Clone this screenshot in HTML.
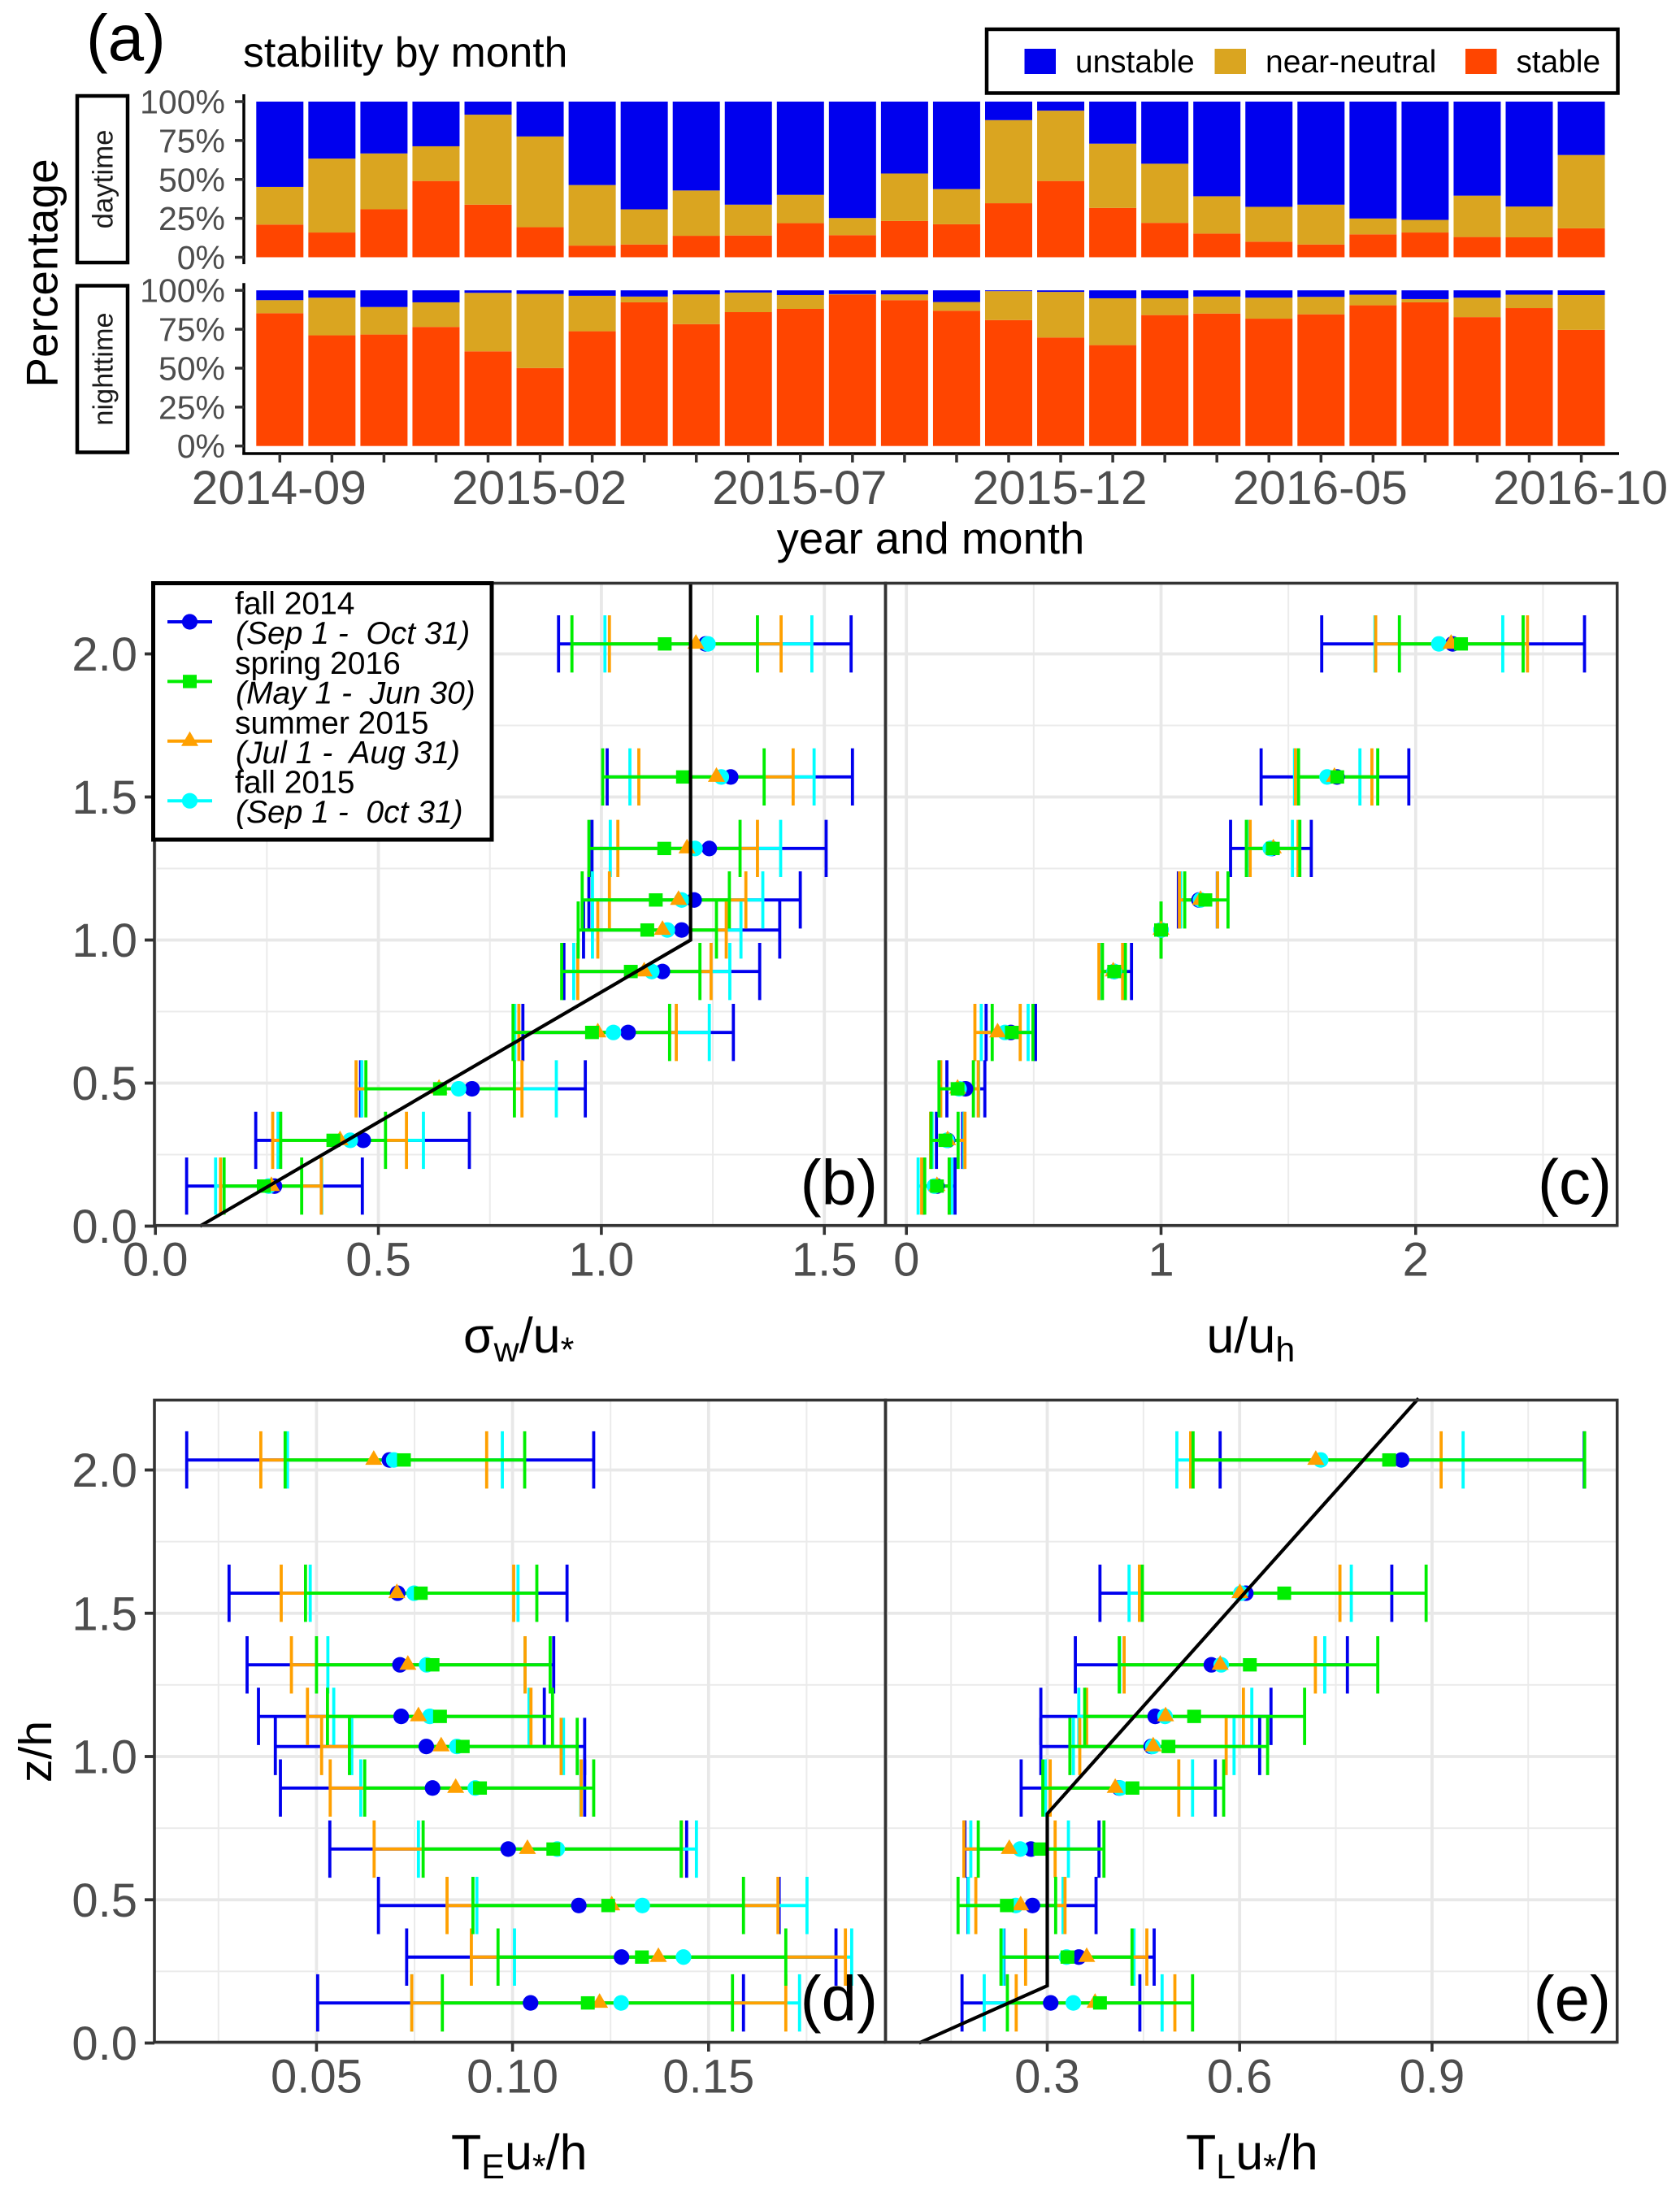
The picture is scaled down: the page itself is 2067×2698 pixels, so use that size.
<!DOCTYPE html>
<html lang="en">
<head>
<meta charset="utf-8">
<title>Stability by month and turbulence profiles</title>
<style>
html,body{margin:0;padding:0;background:#fff;}
svg{display:block;font-family:"Liberation Sans",Arial,sans-serif;}
</style>
</head>
<body>
<svg id="fig" xmlns="http://www.w3.org/2000/svg" width="2067" height="2698" viewBox="0 0 2067 2698">
  <rect x="0" y="0" width="2067" height="2698" fill="#fff"/>
  <g id="layer-a"></g>
  <g id="layer-b"></g>
  <g id="layer-c"></g>
  <g id="layer-d"></g>
  <g id="layer-e"></g>

  <text x="106" y="74" font-size="80">(a)</text>
  <text x="299" y="82" font-size="51.7">stability by month</text>
  <text transform="translate(70.5,336) rotate(-90)" text-anchor="middle" font-size="55">Percentage</text>

  <rect x="95" y="118" width="62" height="205" fill="#fff" stroke="#000" stroke-width="4.5"/>
  <text transform="translate(138.5,220.5) rotate(-90)" text-anchor="middle" font-size="34.8" fill="#1a1a1a">daytime</text>
  <rect x="95" y="351.5" width="62" height="205" fill="#fff" stroke="#000" stroke-width="4.5"/>
  <text transform="translate(138.5,454) rotate(-90)" text-anchor="middle" font-size="34.3" fill="#1a1a1a">nighttime</text>

  <g>
    <rect x="1214" y="36" width="776.5" height="78.5" fill="#fff" stroke="#000" stroke-width="4.5"/>
    <rect x="1260.5" y="60" width="38.5" height="31" fill="#0000ee"/>
    <text x="1323" y="89" font-size="38.8">unstable</text>
    <rect x="1494.5" y="60" width="38.5" height="31" fill="#daa520"/>
    <text x="1557" y="89" font-size="39">near-neutral</text>
    <rect x="1803" y="60" width="38.5" height="31" fill="#ff4500"/>
    <text x="1865.5" y="89" font-size="38.8">stable</text>
  </g>

  <text x="1145" y="681" text-anchor="middle" font-size="54.5">year and month</text>

  <text transform="translate(63,2155) rotate(-90)" text-anchor="middle" font-size="57">z/h</text>

  <text x="570" y="1664" font-size="61">σ<tspan font-size="43" dy="11">w</tspan><tspan dy="-11">/u</tspan><tspan font-size="43" dy="11">*</tspan></text>
  <text x="1484.5" y="1664" font-size="61">u/u<tspan font-size="43" dy="11">h</tspan></text>
  <text x="555" y="2669" font-size="61">T<tspan font-size="43" dy="11">E</tspan><tspan dy="-11">u</tspan><tspan font-size="43" dy="11">*</tspan><tspan dy="-11">/h</tspan></text>
  <text x="1459" y="2669" font-size="61">T<tspan font-size="43" dy="11">L</tspan><tspan dy="-11">u</tspan><tspan font-size="43" dy="11">*</tspan><tspan dy="-11">/h</tspan></text>

  <g id="legend-b"></g>

  <text x="1080" y="1481.5" text-anchor="end" font-size="78">(b)</text>
  <text x="1983" y="1481" text-anchor="end" font-size="78">(c)</text>
  <text x="1080" y="2485.5" text-anchor="end" font-size="78">(d)</text>
  <text x="1982" y="2485.5" text-anchor="end" font-size="78">(e)</text>
</svg>

<script>
// ---------- Panel (a) data: stacked monthly percentages ----------
const months = ["2014-09","2014-10","2014-11","2014-12","2015-01","2015-02","2015-03","2015-04","2015-05","2015-06","2015-07","2015-08","2015-09","2015-10","2015-11","2015-12","2016-01","2016-02","2016-03","2016-04","2016-05","2016-06","2016-07","2016-08","2016-09","2016-10"];
const monthTickLabels = ["2014-09","2015-02","2015-07","2015-12","2016-05","2016-10"];
const percentTicks = [0,25,50,75,100];
const dayStable = [21,15.9,30.8,49,33.8,19.3,7.5,8.2,13.8,14,21.9,14.2,23.3,21.2,34.7,49,31.7,22.1,15.2,10,8.2,14.7,15.9,13,12.8,18.6];
const dayNeutral = [24.2,47.5,35.9,22.3,57.8,58.3,38.9,22.6,29.1,19.8,18.2,11,30.5,22.6,53.4,45.2,41.3,38,24,22.4,25.6,10.2,8.1,26.6,19.8,47.1];
const dayUnstable = [54.8,36.6,33.3,28.7,8.4,22.4,53.6,69.2,57.1,66.2,59.9,74.8,46.2,56.2,11.9,5.8,27,39.9,60.8,67.6,66.2,75.1,76,60.4,67.4,34.3];
const nightStable = [85.3,71.1,71.6,76.5,60.8,50.1,73.7,92.3,78.3,86,88.1,97.2,93.7,86.9,80.9,69.7,64.8,84.1,85.1,81.8,84.6,90.4,92.3,82.8,88.6,74.6];
const nightNeutral = [8.4,24.2,17.7,15.8,37.6,47.6,22.8,3.7,19.1,12.6,8.9,0.4,3.7,5.6,18.6,29.3,30.1,10.8,10.9,13.5,11.2,6.8,2.1,12.5,8.6,22.4];
const nightUnstable = [6.3,4.7,10.7,7.7,1.6,2.3,3.5,4,2.6,1.4,3,2.4,2.6,7.5,0.5,1,5.1,5.1,4,4.7,4.2,2.8,5.6,4.7,2.8,3];

// ---------- Profile heights ----------
const heights = [2.035,1.57,1.32,1.14,1.035,0.89,0.677,0.48,0.30,0.14];

// ---------- Panel (b) sigma_w/u* ----------
const bBlueLow = [.904,1.013,.979,.972,.960,.916,.824,.460,.225,.070];
const bBlueMean = [1.234,1.290,1.242,1.208,1.180,1.137,1.060,.710,.466,.267];
const bBlueHigh = [1.560,1.563,1.504,1.446,1.400,1.355,1.296,.964,.704,.464];
const bGreenLow = [.934,1.003,.972,.957,.948,.911,.802,.472,.281,.154];
const bGreenMean = [1.142,1.183,1.141,1.122,1.103,1.066,.979,.638,.399,.243];
const bGreenHigh = [1.350,1.365,1.311,1.287,1.258,1.221,1.153,.805,.516,.328];
const bOrangeLow = [1.018,1.084,1.037,1.018,.992,.947,.815,.450,.263,.146];
const bOrangeMean = [1.212,1.258,1.192,1.173,1.137,1.096,.992,.636,.414,.260];
const bOrangeHigh = [1.403,1.430,1.350,1.324,1.280,1.246,1.168,.822,.563,.372];
const bCyanLow = [1.008,1.064,1.020,.980,.980,.938,.806,.463,.275,.135];
const bCyanMean = [1.239,1.269,1.210,1.180,1.148,1.113,1.027,.680,.437,.254];
const bCyanHigh = [1.472,1.477,1.402,1.362,1.313,1.288,1.242,.899,.601,.373];
const bRefX = [0.1,1.2,1.2];
const bRefZ = [0,1,2.25];

// ---------- Panel (c) u/uh ----------
const cBlueLow = [1.631,1.393,1.273,1.068,1,.762,.313,.159,.118,.066];
const cBlueMean = [2.145,1.691,1.435,1.149,1,.816,.410,.232,.162,.120];
const cBlueHigh = [2.663,1.973,1.590,1.221,1,.884,.507,.308,.221,.191];
const cGreenLow = [1.936,1.540,1.335,1.093,1,.770,.337,.128,.097,.072];
const cGreenMean = [2.178,1.692,1.439,1.174,1,.816,.414,.201,.153,.120];
const cGreenHigh = [2.422,1.851,1.545,1.263,1,.860,.497,.263,.203,.168];
const cOrangeLow = [1.843,1.528,1.350,1.072,1,.756,.269,.135,.095,.060];
const cOrangeMean = [2.139,1.681,1.441,1.155,1,.812,.358,.201,.162,.120];
const cOrangeHigh = [2.439,1.828,1.538,1.222,1,.849,.447,.282,.230,.168];
const cCyanLow = [1.84,1.524,1.343,1.077,1,.762,.294,.133,.101,.046];
const cCyanMean = [2.091,1.652,1.429,1.155,1,.816,.387,.207,.159,.110];
const cCyanHigh = [2.342,1.781,1.516,1.222,1,.855,.478,.284,.226,.178];

// ---------- Panel (d) T_E u*/h ----------
const dBlueLow = [.0169,.0277,.0323,.0352,.0395,.0408,.0534,.0658,.0730,.0503];
const dBlueMean = [.0686,.0707,.0713,.0716,.0780,.0796,.0989,.1169,.1278,.1046];
const dBlueHigh = [.1207,.1139,.1105,.1081,.1184,.1184,.1444,.1680,.1825,.1589];
const dGreenLow = [.0420,.0472,.0500,.0528,.0584,.0623,.0772,.0899,.0963,.0821];
const dGreenMean = [.0723,.0766,.0796,.0815,.0873,.0917,.1104,.1244,.1330,.1192];
const dGreenHigh = [.1031,.1062,.1096,.1102,.1165,.1207,.1430,.1589,.1697,.1561];
const dOrangeLow = [.0358,.0410,.0436,.0477,.0513,.0535,.0647,.0833,.0895,.0743];
const dOrangeMean = [.0646,.0705,.0733,.0760,.0818,.0855,.1038,.1253,.1372,.1222];
const dOrangeHigh = [.0934,.1003,.1032,.1047,.1124,.1175,.1431,.1677,.1849,.1697];
const dCyanLow = [.0426,.0484,.0529,.0544,.0590,.0613,.0760,.0909,.1005,.0743];
const dCyanMean = [.0697,.0749,.0781,.0789,.0858,.0905,.1114,.1331,.1436,.1277];
const dCyanHigh = [.0974,.1014,.1032,.1042,.1130,.1174,.1469,.1751,.1865,.1732];

// ---------- Panel (e) T_L u*/h ----------
const eBlueLow = [.5696,.3822,.3438,.2900,.2900,.2593,.1716,.1763,.2324,.1671];
const eBlueMean = [.8526,.6096,.5559,.4683,.4621,.4122,.2746,.2769,.3492,.3054];
const eBlueHigh = [1.1373,.8373,.7680,.6489,.6312,.5620,.3807,.3761,.4667,.4444];
const eGreenLow = [.5274,.4483,.4122,.3584,.3353,.2931,.1924,.1609,.2278,.2378];
const eGreenMean = [.8331,.6695,.6159,.5290,.4890,.4329,.2892,.2370,.3315,.3822];
const eGreenHigh = [1.138,.8908,.8154,.7013,.6436,.5751,.3884,.3131,.4322,.5266];
const eOrangeLow = [.5236,.4437,.4199,.3615,.3507,.3046,.1700,.1886,.2662,.2516];
const eOrangeMean = [.7187,.6004,.5697,.4845,.4652,.4060,.2408,.2585,.3615,.3745];
const eOrangeHigh = [.9142,.7564,.7181,.6059,.5790,.5051,.3123,.3277,.4553,.4990];
const eCyanLow = [.5021,.4276,.4130,.3492,.3407,.2969,.1808,.1770,.2316,.2017];
const eCyanMean = [.7264,.6019,.5712,.4837,.4644,.4137,.2577,.2508,.3300,.3407];
const eCyanHigh = [.9485,.7741,.7327,.6190,.5913,.5266,.3330,.3246,.4353,.4791];
const eRefX = [0.1,0.3,0.3,0.879];
const eRefZ = [0,0.2,0.8,2.25];

// ---------- Axis tick values ----------
const zMajorTicks = [0,0.5,1,1.5,2];
const zMinorTicks = [0.25,0.75,1.25,1.75];
const zTickLabels = ["0.0","0.5","1.0","1.5","2.0"];
const bMajorTicks = [0,0.5,1,1.5];
const bMinorTicks = [0.25,0.75,1.25];
const bTickLabels = ["0.0","0.5","1.0","1.5"];
const cMajorTicks = [0,1,2];
const cMinorTicks = [0.5,1.5,2.5];
const cTickLabels = ["0","1","2"];
const dMajorTicks = [0.05,0.10,0.15];
const dMinorTicks = [0.025,0.075,0.125,0.175];
const dTickLabels = ["0.05","0.10","0.15"];
const eMajorTicks = [0.3,0.6,0.9];
const eMinorTicks = [0.15,0.45,0.75,1.05];
const eTickLabels = ["0.3","0.6","0.9"];

// ---------- Legend text ----------
const legendSeasons = ["fall 2014","spring 2016","summer 2015","fall 2015"];
const legendDates = ["(Sep 1 -  Oct 31)","(May 1 -  Jun 30)","(Jul 1 -  Aug 31)","(Sep 1 -  0ct 31)"];

const SVGNS = "http://www.w3.org/2000/svg";
const COL = {blue:"#0000ee",green:"#00ee00",orange:"#ffa000",cyan:"#00ffff",gold:"#daa520",red:"#ff4500"};

function make(tag, attrs, parent){
  const el = document.createElementNS(SVGNS, tag);
  for (const k in attrs) el.setAttribute(k, attrs[k]);
  parent.appendChild(el);
  return el;
}

// ---------- Panel (a) ----------
(function(){
  const g = document.getElementById("layer-a");
  const xBar = i => 344.3 + 64.05 * i;
  const dayY = p => 316.5 - 1.915 * p;
  const nightY = p => 548.7 - 1.915 * p;
  const barW = 58;

  function stack(yFn, stable, neutral, unstable, prefix){
    months.forEach((m, i) => {
      const s = stable[i], n = neutral[i], u = unstable[i];
      const r1 = make("rect",{x:xBar(i)-barW/2,y:yFn(s),width:barW,height:yFn(0)-yFn(s),fill:COL.red},g);
      
      
      const r2 = make("rect",{x:xBar(i)-barW/2,y:yFn(s+n),width:barW,height:yFn(s)-yFn(s+n),fill:COL.gold},g);
      
      
      const r3 = make("rect",{x:xBar(i)-barW/2,y:yFn(s+n+u),width:barW,height:yFn(s+n)-yFn(s+n+u),fill:COL.blue},g);
      
      
    });
  }
  stack(dayY, dayStable, dayNeutral, dayUnstable, 'daytime');
  stack(nightY, nightStable, nightNeutral, nightUnstable, 'nighttime');

  function yAxis(yFn, y1, y2, prefix){
    const line = make("line",{x1:300,x2:300,y1:y1,y2:y2,stroke:"#000","stroke-width":3.5},g);
    
    
    percentTicks.forEach(p => {
      const t = make("line",{x1:289,x2:300,y1:yFn(p),y2:yFn(p),stroke:"#333","stroke-width":3.5},g);
      
      
      const lab = make("text",{x:277,y:yFn(p)+14.5,"text-anchor":"end","font-size":41,fill:"#4d4d4d"},g);
      
      
      lab.textContent = p + "%";
    });
  }
  yAxis(dayY, 116, 325, 'daytime');
  yAxis(nightY, 348.2, 559.5, 'nighttime');

  const xLine = make("line",{x1:298.3,x2:1992,y1:558,y2:558,stroke:"#000","stroke-width":3.5},g);
  
  
  months.forEach((m, i) => {
    const t = make("line",{x1:xBar(i),x2:xBar(i),y1:558,y2:569,stroke:"#333","stroke-width":3.5},g);
    
    
    if (monthTickLabels.indexOf(m) >= 0){
      const lab = make("text",{x:xBar(i)-1,y:620,"text-anchor":"middle","font-size":58.6,fill:"#4d4d4d"},g);
      
      
      lab.textContent = m;
    }
  });
})();

// ---------- Marker helpers ----------
function drawMarker(g, shape, color, x, y, name){
  let el;
  if (shape === "circle") el = make("circle",{cx:x,cy:y,r:9.6,fill:color},g);
  else if (shape === "square") el = make("rect",{x:x-8.5,y:y-8.2,width:17,height:16.4,fill:color},g);
  else el = make("polygon",{points:(x-10.5)+","+(y+6)+" "+(x+10.5)+","+(y+6)+" "+x+","+(y-12),fill:color},g);
  
  
}

// ---------- Profile panels ----------
function drawPanel(cfg){
  const g = document.getElementById(cfg.layer);
  const sx = cfg.sx, sz = cfg.sz;
  const L = cfg.left, R = cfg.right, T = cfg.top, B = cfg.bottom;

  zMinorTicks.forEach(z => {
    const l = make("line",{x1:L,x2:R,y1:sz(z),y2:sz(z),stroke:"#ebebeb","stroke-width":2},g);
    
    
  });
  cfg.xMinor.forEach(v => {
    const l = make("line",{x1:sx(v),x2:sx(v),y1:T,y2:B,stroke:"#ebebeb","stroke-width":2},g);
    
    
  });
  zMajorTicks.forEach(z => {
    const l = make("line",{x1:L,x2:R,y1:sz(z),y2:sz(z),stroke:"#e8e8e8","stroke-width":3.8},g);
    
    
  });
  cfg.xMajor.forEach(v => {
    const l = make("line",{x1:sx(v),x2:sx(v),y1:T,y2:B,stroke:"#e8e8e8","stroke-width":3.8},g);
    
    
  });

  // error bars, in back-to-front order
  cfg.series.forEach(s => {
    heights.forEach((z, i) => {
      const y = sz(z), x1 = sx(s.low[i]), x2 = sx(s.high[i]);
      const h = make("line",{x1:x1,x2:x2,y1:y,y2:y,stroke:s.color,"stroke-width":3.9},g);
      
      
      const c1 = make("line",{x1:x1,x2:x1,y1:sz(z+0.1),y2:sz(z-0.1),stroke:s.color,"stroke-width":3.8},g);
      
      
      const c2 = make("line",{x1:x2,x2:x2,y1:sz(z+0.1),y2:sz(z-0.1),stroke:s.color,"stroke-width":3.8},g);
      
      
    });
  });
  cfg.series.forEach(s => {
    heights.forEach((z, i) => {
      drawMarker(g, s.shape, s.color, sx(s.mean[i]), sz(z), s.name + '-point');
    });
  });

  if (cfg.refX){
    const pts = cfg.refX.map((v, i) => sx(v) + "," + sz(cfg.refZ[i])).join(" ");
    const ref = make("polyline",{points:pts,fill:"none",stroke:"#000","stroke-width":4.2},g);
    
    
  }

  const border = make("rect",{x:L,y:T,width:R-L,height:B-T,fill:"none",stroke:"#333","stroke-width":3.6},g);
  
  

  cfg.xMajor.forEach((v, i) => {
    const t = make("line",{x1:sx(v),x2:sx(v),y1:B,y2:B+11.5,stroke:"#333","stroke-width":3.6},g);
    
    
    const lab = make("text",{x:sx(v),y:B+62,"text-anchor":"middle","font-size":58,fill:"#4d4d4d"},g);
    
    
    lab.textContent = cfg.xLabels[i];
  });

  if (cfg.showZ){
    zMajorTicks.forEach((z, i) => {
      const t = make("line",{x1:L-12,x2:L,y1:sz(z),y2:sz(z),stroke:"#333","stroke-width":3.8},g);
      
      
      const lab = make("text",{x:169,y:sz(z)+20.5,"text-anchor":"end","font-size":58,fill:"#4d4d4d"},g);
      
      
      lab.textContent = zTickLabels[i];
    });
  }
}

function seriesFor(bL,bM,bH,cL,cM,cH,oL,oM,oH,gL,gM,gH){
  return [
    {name:'fall-2014',color:COL.blue,shape:'circle',low:bL,mean:bM,high:bH},
    {name:'fall-2015',color:COL.cyan,shape:'circle',low:cL,mean:cM,high:cH},
    {name:'summer-2015',color:COL.orange,shape:'triangle',low:oL,mean:oM,high:oH},
    {name:'spring-2016',color:COL.green,shape:'square',low:gL,mean:gM,high:gH}
  ];
}

const zUpper = z => 1508.5 - 352 * z;
const zLower = z => 2513.5 - 352.5 * z;

drawPanel({layer:"layer-b",left:190,right:1089.5,top:717.5,bottom:1507.7,
  sx:v => 191.2 + 548.7 * v, sz:zUpper, xMajor:bMajorTicks, xMinor:bMinorTicks, xLabels:bTickLabels, showZ:true,
  refX:bRefX, refZ:bRefZ,
  series:seriesFor(bBlueLow,bBlueMean,bBlueHigh,bCyanLow,bCyanMean,bCyanHigh,bOrangeLow,bOrangeMean,bOrangeHigh,bGreenLow,bGreenMean,bGreenHigh)});

drawPanel({layer:"layer-c",left:1089.5,right:1989.7,top:717.5,bottom:1507.7,
  sx:v => 1115.2 + 313.3 * v, sz:zUpper, xMajor:cMajorTicks, xMinor:cMinorTicks, xLabels:cTickLabels, showZ:false,
  series:seriesFor(cBlueLow,cBlueMean,cBlueHigh,cCyanLow,cCyanMean,cCyanHigh,cOrangeLow,cOrangeMean,cOrangeHigh,cGreenLow,cGreenMean,cGreenHigh)});

drawPanel({layer:"layer-d",left:190,right:1089.5,top:1722.5,bottom:2512.5,
  sx:v => 389.4 + (v - 0.05) * 4824, sz:zLower, xMajor:dMajorTicks, xMinor:dMinorTicks, xLabels:dTickLabels, showZ:true,
  series:seriesFor(dBlueLow,dBlueMean,dBlueHigh,dCyanLow,dCyanMean,dCyanHigh,dOrangeLow,dOrangeMean,dOrangeHigh,dGreenLow,dGreenMean,dGreenHigh)});

drawPanel({layer:"layer-e",left:1089.5,right:1989.7,top:1722.5,bottom:2512.5,
  sx:v => 1288.5 + (v - 0.3) * 789, sz:zLower, xMajor:eMajorTicks, xMinor:eMinorTicks, xLabels:eTickLabels, showZ:false,
  refX:eRefX, refZ:eRefZ,
  series:seriesFor(eBlueLow,eBlueMean,eBlueHigh,eCyanLow,eCyanMean,eCyanHigh,eOrangeLow,eOrangeMean,eOrangeHigh,eGreenLow,eGreenMean,eGreenHigh)});

// ---------- Season legend ----------
(function(){
  const g = document.getElementById("legend-b");
  const box = make("rect",{x:188.5,y:717.5,width:416.5,height:315.5,fill:"#fff",stroke:"#000","stroke-width":5},g);
  
  
  const keyColors = [COL.blue,COL.green,COL.orange,COL.cyan];
  const keyShapes = ['circle','square','triangle','circle'];
  legendSeasons.forEach((season, i) => {
    const keyY = 765 + 73.4 * i;
    const line = make("line",{x1:206,x2:261,y1:keyY,y2:keyY,stroke:keyColors[i],"stroke-width":4},g);
    
    
    drawMarker(g, keyShapes[i], keyColors[i], 233.5, keyY, 'legend-key-marker');
    const t1 = make("text",{x:289,y:keyY-9.5,"font-size":39},g);
    
    
    t1.textContent = season;
    const t2 = make("text",{x:290,y:keyY+27,"font-size":39,"font-style":"italic",style:"white-space:pre"},g);
    
    
    t2.textContent = legendDates[i];
  });
})();
</script>
</body>
</html>
